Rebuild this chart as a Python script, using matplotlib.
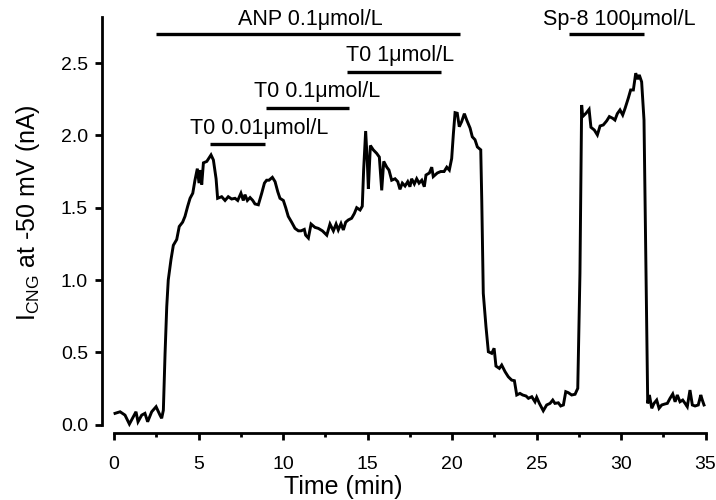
import numpy as np
import matplotlib
matplotlib.use("Agg")
import matplotlib.pyplot as plt

plt.rcParams['font.family'] = ['Liberation Sans', 'DejaVu Sans']
plt.rcParams['mathtext.fontset'] = 'custom'
plt.rcParams['mathtext.rm'] = 'Liberation Sans'

# trace: time (min), current (nA)
time_min = [0.06, 0.36, 0.65, 0.91, 1.14, 1.30, 1.42, 1.64, 1.83, 1.99, 2.23, 2.49, 2.72, 2.82, 2.92,
            3.02, 3.12, 3.21, 3.37, 3.51, 3.71, 3.86, 4.06, 4.20, 4.36, 4.50, 4.66, 4.79, 4.93, 5.03,
            5.13, 5.19, 5.29, 5.49, 5.74, 5.88, 6.04, 6.13, 6.37, 6.57, 6.76, 6.96, 7.16, 7.32, 7.51,
            7.65, 7.75, 7.89, 8.05, 8.21, 8.34, 8.54, 8.74, 8.90, 9.03,
            9.17, 9.37, 9.53, 9.69, 9.82, 10.02, 10.16, 10.31, 10.51, 10.71, 10.91, 11.07, 11.26, 11.34,
            11.50, 11.66, 11.89, 12.09, 12.33, 12.59, 12.78, 12.98, 13.14, 13.27, 13.43, 13.57, 13.71,
            13.86, 14.06, 14.22, 14.36, 14.56, 14.69, 14.77, 14.89, 14.99, 15.05, 15.17, 15.34, 15.54,
            15.70, 15.84, 15.96, 16.14, 16.27, 16.43, 16.63, 16.79, 16.92, 17.06, 17.22, 17.38, 17.51,
            17.61, 17.77, 17.91, 18.05, 18.21, 18.36,
            18.46, 18.66, 18.80, 18.89, 19.13, 19.33, 19.53, 19.69, 19.84, 19.98, 20.08, 20.18, 20.31,
            20.43, 20.57, 20.73, 20.87, 21.07, 21.20, 21.36, 21.50, 21.70, 21.76, 21.85, 22.01, 22.15,
            22.35, 22.49, 22.60, 22.80, 22.94, 23.14, 23.33, 23.53, 23.69, 23.83, 24.02, 24.18, 24.38,
            24.52, 24.72, 24.91, 25.01, 25.17, 25.40, 25.60, 25.80, 25.96, 26.09, 26.29, 26.43, 26.59,
            26.73, 26.88, 27.08, 27.28, 27.44,
            27.57, 27.67, 27.73, 27.93, 28.11, 28.22, 28.42, 28.60, 28.76, 28.95, 29.15, 29.31, 29.51,
            29.64, 29.78, 29.94, 30.10, 30.24, 30.43, 30.57, 30.73, 30.87, 30.99, 31.08, 31.22, 31.36,
            31.48, 31.58, 31.68, 31.82, 31.95, 32.11, 32.25, 32.41, 32.60, 32.74, 32.90, 33.06, 33.20,
            33.33, 33.49, 33.65, 33.79, 33.92, 34.08, 34.22, 34.38, 34.57, 34.72, 34.81, 34.91]
current_na = [0.078, 0.089, 0.066, 0.004, 0.055, 0.089, 0.020, 0.066, 0.078, 0.020, 0.089, 0.124, 0.066, 0.044, 0.100,
              0.49, 0.815, 1.00, 1.14, 1.24, 1.28, 1.37, 1.40, 1.44, 1.51, 1.565, 1.60, 1.69, 1.77, 1.67,
              1.76, 1.66, 1.81, 1.82, 1.865, 1.83, 1.70, 1.565, 1.576, 1.55, 1.576, 1.56, 1.565, 1.55, 1.60,
              1.55, 1.59, 1.55, 1.57, 1.55, 1.526, 1.52, 1.60, 1.67, 1.69,
              1.69, 1.71, 1.68, 1.61, 1.565, 1.55, 1.50, 1.44, 1.40, 1.357, 1.34, 1.34, 1.35, 1.31,
              1.29, 1.387, 1.364, 1.357, 1.34, 1.31, 1.387, 1.34, 1.387, 1.346, 1.39, 1.346, 1.40,
              1.415, 1.427, 1.46, 1.50, 1.484, 1.51, 1.76, 2.03, 1.81, 1.63, 1.93, 1.90, 1.876,
              1.85, 1.62, 1.82, 1.78, 1.76, 1.69, 1.70, 1.68, 1.627, 1.67, 1.65, 1.68, 1.645,
              1.70, 1.664, 1.70, 1.67, 1.69, 1.645,
              1.726, 1.74, 1.78, 1.715, 1.74, 1.75, 1.75, 1.78, 1.76, 1.84, 2.01, 2.157, 2.153,
              2.06, 2.095, 2.15, 2.106, 2.05, 1.99, 1.97, 1.92, 1.90, 1.553, 0.908, 0.677, 0.504,
              0.493, 0.528, 0.405, 0.389, 0.412, 0.366, 0.331, 0.308, 0.304, 0.205, 0.216, 0.205, 0.198,
              0.182, 0.193, 0.158, 0.189, 0.147, 0.096, 0.136, 0.147, 0.170, 0.147, 0.151, 0.129, 0.136,
              0.228, 0.221, 0.205, 0.210, 0.251,
              1.046, 2.21, 2.13, 2.153, 2.18, 2.056, 2.037, 2.003, 2.065, 2.072, 2.10, 2.13, 2.118,
              2.106, 2.15, 2.176, 2.141, 2.187, 2.257, 2.314, 2.314, 2.43, 2.388, 2.418, 2.37, 2.106,
              1.046, 0.147, 0.205, 0.113, 0.147, 0.170, 0.113, 0.136, 0.143, 0.147, 0.182, 0.212, 0.158,
              0.205, 0.158, 0.170, 0.147, 0.124, 0.239, 0.136, 0.129, 0.136, 0.205, 0.170, 0.136]

# drug application bars
bar_labels = ["ANP 0.1\u03bcmol/L", "T0 0.01\u03bcmol/L", "T0 0.1\u03bcmol/L", "T0 1\u03bcmol/L", "Sp-8 100\u03bcmol/L"]
bar_start = [2.5, 5.7, 9.0, 13.8, 26.95]
bar_end = [20.45, 8.95, 13.9, 19.35, 31.35]
bar_level = [2.70, 1.94, 2.19, 2.44, 2.70]
label_x = [11.6, 8.6, 12.0, 16.9, 29.9]
label_y = [2.80, 2.05, 2.30, 2.55, 2.80]

xticks = [0, 5, 10, 15, 20, 25, 30, 35]
yticks = [0.0, 0.5, 1.0, 1.5, 2.0, 2.5]

fig = plt.figure(figsize=(7.16, 5.00), dpi=100)
ax = fig.add_axes([0, 0, 1, 1])
ax.set_xlim(-6.746, 35.62)
ax.set_ylim(-0.521, 2.936)

ax.plot(time_min, current_na, color='black', lw=2.1, solid_joinstyle='miter')

for i in range(len(bar_labels)):
    ax.plot([bar_start[i], bar_end[i]], [bar_level[i], bar_level[i]], color='black', lw=2.4,
            solid_capstyle='butt')
    ax.text(label_x[i], label_y[i], bar_labels[i], ha='center', va='center', fontsize=15.5)

for s in ['top', 'right']:
    ax.spines[s].set_visible(False)
ax.spines['left'].set_position(('data', -0.71))
ax.spines['left'].set_bounds(0, 2.82)
ax.spines['bottom'].set_position(('data', -0.06))
ax.spines['bottom'].set_bounds(0, 35)
for s in ['left', 'bottom']:
    ax.spines[s].set_linewidth(2.0)

ax.set_xticks(xticks)
ax.set_xticks([2.5 + 5 * k for k in range(7)], minor=True)
ax.set_xticklabels([str(t) for t in xticks])
ax.set_yticks(yticks)
ax.set_yticklabels(['%.1f' % t for t in yticks])
ax.tick_params(axis='both', which='major', direction='out', length=5, width=2.0, labelsize=14)
ax.tick_params(axis='y', which='major', pad=5)
ax.tick_params(axis='x', which='major', pad=11)
ax.tick_params(axis='x', which='minor', direction='out', length=3, width=2.0)

fig.text(343 / 716, 1 - 487 / 500, 'Time (min)', ha='center', va='center', fontsize=18)
fig.text(28 / 716, 1 - 213 / 500, r'I$_{\mathregular{CNG}}$ at -50 mV (nA)', ha='center', va='center',
         rotation=90, fontsize=18)

fig.savefig('out.png', dpi=100)
